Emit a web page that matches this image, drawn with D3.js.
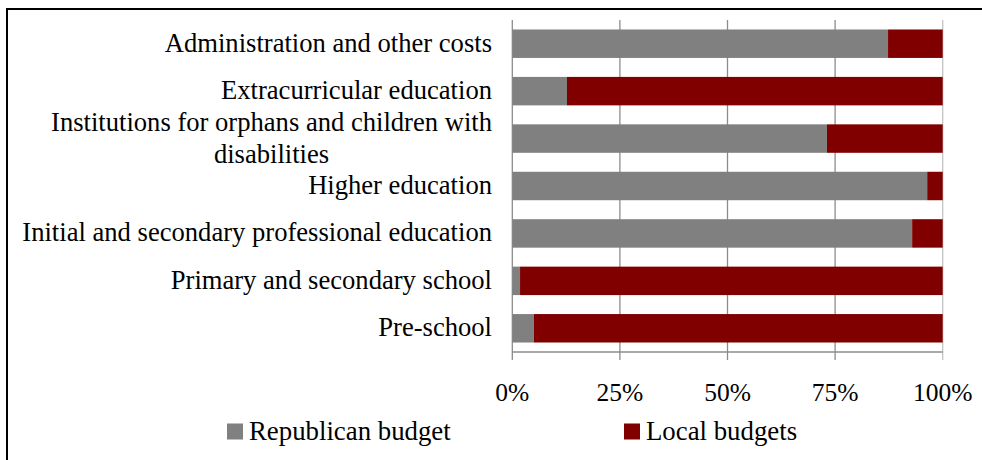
<!DOCTYPE html>
<html>
<head>
<meta charset="utf-8">
<script src="https://cdn.jsdelivr.net/npm/d3@7"></script>
<style>
  html, body { margin: 0; padding: 0; background: #fff; }
  svg { display: block; }
  text { font-family: "Liberation Serif", "Times New Roman", serif; fill: #000; }
</style>
</head>
<body>
<svg id="chart" width="982" height="460"></svg>
<script>
const categories = [
  ["Administration and other costs"],
  ["Extracurricular education"],
  ["Institutions for orphans and children with", "disabilities"],
  ["Higher education"],
  ["Initial and secondary professional education"],
  ["Primary and secondary school"],
  ["Pre-school"]
];
const republican = [87.3, 12.7, 73.1, 96.4, 92.9, 1.8, 5.0];
const local = republican.map(v => +(100 - v).toFixed(1));
const seriesNames = ["Republican budget", "Local budgets"];
const seriesColors = ["#808080", "#800000"];
const tickValues = [0, 25, 50, 75, 100];
const tickLabels = ["0%", "25%", "50%", "75%", "100%"];

const svg = d3.select("#chart");
const plot = { left: 512.3, right: 942.7, top: 20, bottom: 352 };

// frame
svg.append("rect")
  .attr("x", 7).attr("y", 9).attr("width", 1000).attr("height", 500)
  .attr("fill", "none").attr("stroke", "#000").attr("stroke-width", 2);

const x = d3.scaleLinear().domain([0, 100]).range([plot.left, plot.right]);
const keys = categories.map((c, i) => i);
const y = d3.scaleBand().domain(keys).range([plot.top, plot.bottom])
  .paddingInner(0.4).paddingOuter(0.2);

// gridlines
svg.append("g").selectAll("line").data(tickValues).join("line")
  .attr("x1", d => x(d)).attr("x2", d => x(d))
  .attr("y1", plot.top).attr("y2", plot.bottom + 8)
  .attr("stroke", d => d === 100 ? "#c4c4c4" : "#8c8c8c")
  .attr("stroke-width", 1.3);

// stacked bars
const rows = keys.map(i => ({ i, r: republican[i], l: local[i] }));
const stack = d3.stack().keys(["r", "l"])(rows);
svg.append("g").selectAll("g").data(stack).join("g")
  .attr("fill", (d, k) => seriesColors[k])
  .selectAll("rect").data(d => d).join("rect")
  .attr("x", d => x(d[0]))
  .attr("width", d => x(d[1]) - x(d[0]))
  .attr("y", d => y(d.data.i))
  .attr("height", y.bandwidth());

// bottom axis line
svg.append("line")
  .attr("x1", x(0)).attr("x2", x(100))
  .attr("y1", plot.bottom).attr("y2", plot.bottom)
  .attr("stroke", "#8c8c8c").attr("stroke-width", 1.3);

// tick labels
svg.append("g").selectAll("text").data(tickValues).join("text")
  .attr("x", d => x(d)).attr("y", 401)
  .attr("text-anchor", "middle")
  .attr("font-size", 25.5)
  .text((d, i) => tickLabels[i]);

// category labels
const fs = 26.6, lh = 32;
const labelG = svg.append("g");
categories.forEach((lines, i) => {
  const cy = y(i) + y.bandwidth() / 2;
  const n = lines.length;
  const t = labelG.append("text")
    .attr("font-size", fs)
    .attr("text-anchor", "end");
  if (n === 1) {
    t.attr("x", 492).attr("y", cy + 8).text(lines[0]);
  } else {
    const widths = lines.map(s => {
      const tt = labelG.append("text").attr("font-size", fs).text(s);
      const w = tt.node().getComputedTextLength();
      tt.remove();
      return w;
    });
    const centerX = 492 - d3.max(widths) / 2;
    t.attr("text-anchor", "middle");
    lines.forEach((s, k) => {
      t.append("tspan")
        .attr("x", centerX)
        .attr("y", cy + 8 + (k - (n - 1) / 2) * lh)
        .text(s);
    });
  }
});

// legend
const legendItems = [
  { name: seriesNames[0], color: seriesColors[0], x: 227 },
  { name: seriesNames[1], color: seriesColors[1], x: 624 }
];
const lg = svg.append("g");
legendItems.forEach(d => {
  lg.append("rect").attr("x", d.x).attr("y", 423.5)
    .attr("width", 16).attr("height", 16).attr("fill", d.color);
  lg.append("text").attr("x", d.x + 22).attr("y", 440)
    .attr("font-size", 26.8).text(d.name);
});
</script>
</body>
</html>
